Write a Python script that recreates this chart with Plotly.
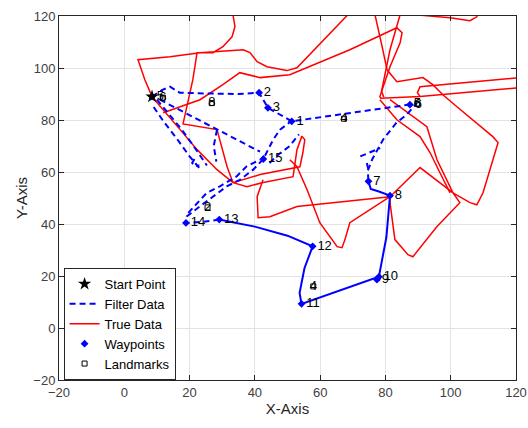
import plotly.graph_objects as go

FONT = "Liberation Sans, Arial, sans-serif"

# ---------------- True trajectory (strokes) ----------------
true_a_x = [33.3, 33.3, 33.9, 33.0, 30.2, 27.2, 22.3, 21.0, 18.0, 28.4, 31.5, 33.3, 41.6, 49.8, 53.8, 54.7, 55.3, 54.4,
            52.9, 51.7, 42.2, 37.6, 33.3, 28.4, 22.3, 17.1, 12.5, 10.0, 8.5, 6.3, 4.2, 14.0, 23.2, 36.4, 38.5, 40.7,
            43.7, 49.8, 52.9, 68.5, 70.5]
true_a_y = [124, 120.5, 115.9, 112.0, 108.2, 105.9, 105.9, 95.5, 78.5, 76.3, 62.0, 55.9, 59.0, 60.9, 62.0, 67.4, 72.4,
            73.8, 68.6, 58.2, 55.9, 54.3, 55.9, 60.9, 68.6, 76.3, 82.8, 86.7, 89.0, 95.5, 103.2, 104.3, 105.9, 107.0,
            105.9, 102.4, 100.5, 99.0, 100.1, 120.5, 124]
true_b_x = [11.9, 23.2, 30.2, 35.4, 41.6, 50.7, 69.1, 83.5, 85.1, 84.5, 81.4, 78.3, 78.6, 90.6, 121]
true_b_y = [82.8, 87.8, 93.6, 98.2, 96.3, 97.4, 107.0, 115.5, 113.6, 109.7, 100.5, 89.0, 88.4, 89.0, 92.4]
true_c_x = [88.5, 89.0, 99.8, 105.9, 108.0, 109.0]
true_c_y = [124, 120.5, 119.3, 118.2, 119.7, 124]
true_d_x = [85.5, 84.5, 81.4, 78.8, 79.5]
true_d_y = [124, 120.5, 107.0, 91.0, 88.8]
true_e_x = [76.8, 76.8, 79.2, 80.5, 83.5, 91.5, 94.5, 97.6, 101.9, 112.9, 114.5, 112.9, 109.9, 108.0, 105.9, 100.7,
            102.8, 95.8, 88.4, 86.9, 82.9, 81.4, 81.4, 90.6, 100.7, 95.8, 92.7, 81.4]
true_e_y = [124, 120.5, 107.0, 99.3, 94.7, 96.3, 93.6, 89.7, 85.1, 73.6, 71.3, 64.7, 52.0, 47.4, 48.2, 52.0,
            48.2, 39.0, 27.4, 28.2, 34.0, 48.2, 50.5, 61.7, 52.0, 64.7, 77.4, 87.8]
true_f_x = [78.3, 83.5, 90.6, 93.7, 96.7, 99.8]
true_f_y = [87.8, 80.1, 73.6, 67.4, 59.7, 52.0]
true_g_x = [81.4, 74.3, 69.1, 67.6, 66.7, 65.2, 59.9, 56.0, 52.9, 50.7]
true_g_y = [50.5, 44.7, 40.5, 34.0, 30.9, 31.3, 40.5, 53.2, 62.0, 64.7]
true_h_x = [81.4, 78.3, 57.8, 52.9, 44.6, 41.0, 40.7, 42.5]
true_h_y = [50.5, 50.1, 47.4, 46.7, 42.8, 42.4, 50.5, 57.0]
true_i_x = [121, 90.6, 89.8, 90.6]
true_i_y = [96.3, 92.8, 90.5, 89.0]

# ---------------- Filter estimate (strokes) ----------------
filt_a_x = [8.5, 11.5, 14.0, 17.0, 25.0, 35.0, 41.3, 44.0, 51.3, 59.0, 67.3, 80.0, 87.5, 89.5, 86.5, 83.4, 79.3, 76.0, 74.6, 74.8]
filt_a_y = [89.0, 91.5, 92.8, 90.5, 90.2, 90.0, 90.5, 84.7, 79.5, 80.9, 82.2, 84.5, 85.9, 86.3, 82.0, 79.0, 72.5, 65.0, 60.5, 56.4]
filt_s_x = [74.8, 75.5, 78.0, 81.4, 80.3, 78.0, 54.3, 53.7, 55.2, 57.7, 50.0, 40.0, 32.0, 29.1]
filt_s_y = [56.4, 53.5, 52.5, 50.9, 35.0, 19.7, 9.3, 13.5, 23.0, 31.4, 35.5, 39.0, 41.0, 41.7]
filt_t_x = [29.1, 24.0, 18.9, 19.1, 23.2, 27.3, 31.4, 35.4, 39.5, 42.6, 45.6, 47.7, 51.7]
filt_t_y = [41.7, 40.8, 40.4, 42.9, 46.8, 50.6, 54.5, 57.0, 60.9, 65.0, 72.4, 76.3, 80.1]
filt_u_x = [19.6, 25.2, 29.3, 34.4, 37.5, 41.6]
filt_u_y = [44.3, 51.9, 54.5, 58.3, 62.2, 64.7]
filt_v_x = [10.0, 13.5, 17.5, 21.5, 25.3]
filt_v_y = [87.8, 82.5, 76.5, 69.5, 62.5]
filt_w_x = [9.0, 12.0, 16.0, 20.0, 23.0]
filt_w_y = [85.0, 79.5, 73.0, 66.0, 61.5]
filt_b_x = [10.9, 16.0, 21.5, 28.4, 35.0, 41.6]
filt_b_y = [87.8, 84.5, 81.0, 76.3, 72.0, 67.8]
filt_d_x = [28.4, 27.4, 28.2]
filt_d_y = [76.3, 70.0, 64.0]
filt_c_x = [21.5, 20.8, 21.5, 23.0]
filt_c_y = [65.0, 63.5, 62.3, 62.5]
filt_e_x = [44.5, 47.5, 50.7, 53.5]
filt_e_y = [63.5, 67.0, 70.0, 74.5]
filt_f_x = [72.3, 75.0, 78.4]
filt_f_y = [66.0, 67.5, 69.2]
filt_g_x = [74.3, 74.8]
filt_g_y = [63.5, 60.9]

# ---------------- Points ----------------
start_x = [8.5]
start_y = [89.0]
wp_labels = ["1", "2", "3", "5", "6", "7", "8", "9", "10", "11", "12", "13", "14", "15"]
wp_x = [51.3, 41.3, 44.0, 8.5, 87.5, 74.8, 81.4, 77.4, 78.0, 54.3, 57.7, 29.1, 18.9, 42.6]
wp_y = [79.5, 90.5, 84.7, 89.0, 85.9, 56.4, 50.9, 18.6, 19.7, 9.3, 31.4, 41.7, 40.4, 65.0]
lm_labels = ["8", "4", "4", "2", "6", "5"]
lm_x = [26.8, 67.3, 57.9, 25.5, 11.8, 89.8]
lm_y = [86.5, 80.5, 16.0, 46.4, 88.6, 86.3]


def join(*pairs):
    xs, ys = [], []
    for px, py in pairs:
        xs += list(px) + [None]
        ys += list(py) + [None]
    return xs, ys


tx, ty = join((true_a_x, true_a_y), (true_b_x, true_b_y), (true_c_x, true_c_y), (true_d_x, true_d_y),
              (true_e_x, true_e_y), (true_f_x, true_f_y), (true_g_x, true_g_y), (true_h_x, true_h_y),
              (true_i_x, true_i_y))
fx, fy = join((filt_a_x, filt_a_y), (filt_t_x, filt_t_y), (filt_u_x, filt_u_y), (filt_v_x, filt_v_y),
              (filt_w_x, filt_w_y), (filt_b_x, filt_b_y), (filt_d_x, filt_d_y), (filt_c_x, filt_c_y),
              (filt_e_x, filt_e_y), (filt_f_x, filt_f_y), (filt_g_x, filt_g_y))

fig = go.Figure()
fig.add_trace(go.Scatter(x=tx, y=ty, mode="lines", name="True Data", legendrank=3,
                         line=dict(color="#ff0000", width=1.5), connectgaps=False))
fig.add_trace(go.Scatter(x=fx, y=fy, mode="lines", name="Filter Data", legendrank=2,
                         line=dict(color="#0000ff", width=2, dash="6px,4px"), connectgaps=False))
fig.add_trace(go.Scatter(x=filt_s_x, y=filt_s_y, mode="lines", showlegend=False,
                         line=dict(color="#0000ff", width=2)))
fig.add_trace(go.Scatter(x=wp_x, y=wp_y, mode="markers+text", name="Waypoints", legendrank=4,
                         text=wp_labels, textposition="middle right",
                         textfont=dict(family=FONT, size=13, color="#000000"),
                         marker=dict(symbol="diamond", size=6, color="#0000ff")))
fig.add_trace(go.Scatter(x=lm_x, y=lm_y, mode="markers+text", name="Landmarks", legendrank=5,
                         text=lm_labels, textposition="middle center",
                         textfont=dict(family=FONT, size=13, color="#000000"),
                         marker=dict(symbol="square-open", size=5, color="#000000", line=dict(width=1))))
fig.add_trace(go.Scatter(x=start_x, y=start_y, mode="markers", name="Start Point", legendrank=1,
                         marker=dict(symbol="star", size=10, color="#000000")))

axis_common = dict(range=[-20, 120], dtick=20, showgrid=True, gridcolor="#e3e3e3", gridwidth=1,
                   zeroline=False, showline=True, linecolor="#262626", linewidth=1, mirror="ticks",
                   ticks="inside", ticklen=5, tickcolor="#262626", automargin=False,
                   tickfont=dict(family=FONT, size=13, color="#404040"))
fig.update_xaxes(**axis_common, title=dict(text="X-Axis", font=dict(family=FONT, size=15, color="#262626"),
                                           standoff=4))
fig.update_yaxes(**axis_common, title=dict(text="Y-Axis", font=dict(family=FONT, size=15, color="#262626"),
                                           standoff=2))
fig.update_layout(
    width=528, height=428,
    margin=dict(l=59, r=12, t=16, b=48),
    plot_bgcolor="#ffffff", paper_bgcolor="#ffffff",
    font=dict(family=FONT, size=13, color="#000000"),
    legend=dict(x=0.01, y=0.0, xanchor="left", yanchor="bottom", bgcolor="#ffffff",
                bordercolor="#262626", borderwidth=1, itemwidth=30, tracegroupgap=0,
                font=dict(family=FONT, size=13, color="#000000")),
)
fig.write_html("out.html", config={"displayModeBar": False},
               post_script="document.body.style.margin='0px';")
